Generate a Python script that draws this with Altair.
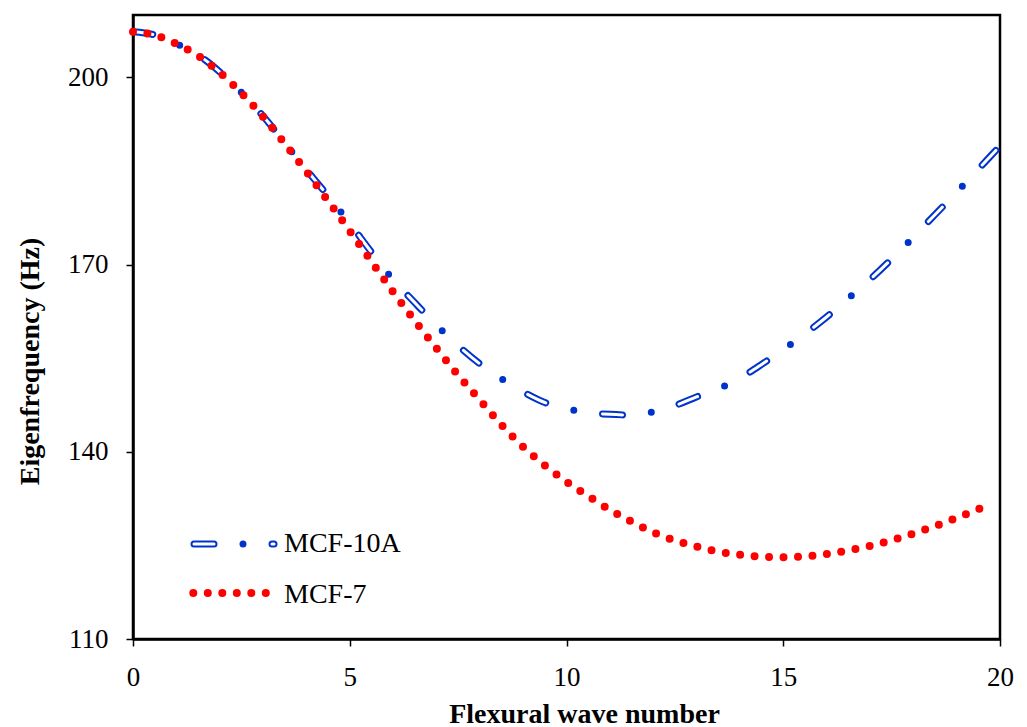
import altair as alt
import pandas as pd

# Flexural wave number (x) and eigenfrequency in Hz (y) for each cell line
wave_number_10a = [0, 0.5, 1, 1.5, 2, 2.5, 3, 3.5, 4, 4.5, 5, 5.5, 6, 6.5, 7, 7.5,
                   8, 8.5, 9, 9.5, 10, 10.5, 11, 11.5, 12, 12.5, 13, 13.5, 14,
                   14.5, 15, 15.5, 16, 16.5, 17, 17.5, 18, 18.5, 19, 19.5, 20]
freq_10a = [207.3, 206.8, 205.4, 203.6, 200.9, 197.6, 193.8, 189.5, 185.2, 181.0,
            176.6, 172.0, 167.6, 163.9, 160.3, 157.0, 154.1, 151.7, 149.6, 147.9,
            146.9, 146.3, 146.0, 145.9, 146.4, 147.4, 148.8, 150.1, 151.8, 154.0,
            156.4, 158.9, 161.6, 164.6, 167.6, 170.9, 174.4, 178.0, 181.6, 185.3,
            189.0]

wave_number_7 = [0, 0.5, 1, 1.5, 2, 2.5, 3, 3.5, 4, 4.5, 5, 5.5, 6, 6.5, 7, 7.5,
                 8, 8.5, 9, 9.5, 10, 10.5, 11, 11.5, 12, 12.5, 13, 13.5, 14,
                 14.5, 15, 15.5, 16, 16.5, 17, 17.5, 18, 18.5, 19, 19.5, 19.8]
freq_7 = [207.3, 206.8, 205.4, 203.5, 200.8, 197.5, 193.7, 189.4, 184.9, 180.2,
          175.4, 170.5, 165.6, 161.0, 156.6, 152.3, 148.3, 144.3, 140.8, 137.8,
          135.2, 132.9, 130.7, 128.8, 127.1, 125.8, 124.8, 124.0, 123.5, 123.2,
          123.1, 123.25, 123.6, 124.2, 124.9, 125.8, 126.9, 128.1, 129.4, 130.8,
          131.7]

series_names = ["MCF-10A", "MCF-7"]
x_ticks = [0, 5, 10, 15, 20]
y_ticks = [110, 140, 170, 200]

BLUE = "#0033cc"
RED = "#ff0000"
FONT = "Liberation Serif"

df_10a = pd.DataFrame({"k": wave_number_10a, "f": freq_10a})
df_7 = pd.DataFrame({"k": wave_number_7, "f": freq_7})

x_enc = alt.X(
    "k:Q",
    scale=alt.Scale(domain=[0, 20], nice=False),
    axis=alt.Axis(
        values=x_ticks, title="Flexural wave number", titleX=451, titleY=83,
        titleAlign="center", titleBaseline="alphabetic", labelFlush=False,
    ),
)
y_enc = alt.Y(
    "f:Q",
    scale=alt.Scale(domain=[110, 210], nice=False, zero=False),
    axis=alt.Axis(
        values=y_ticks, title="Eigenfrequency (Hz)", titleX=-103, titleY=346,
        titleAlign="center", titleBaseline="middle", labelFlush=False,
    ),
)

# MCF-10A: dash-dot line whose dashes are hollow (blue stroke, white core)
blue_outer = alt.Chart(df_10a).mark_line(
    color=BLUE, strokeWidth=7, strokeDash=[20, 29, 0, 29], strokeCap="round",
    interpolate="monotone", clip=True,
).encode(x=x_enc, y=y_enc)

blue_inner = alt.Chart(df_10a).mark_line(
    color="white", strokeWidth=3, strokeDash=[20, 58], strokeCap="round",
    interpolate="monotone", clip=True,
).encode(x="k:Q", y="f:Q")

# MCF-7: round dotted line
red_dots = alt.Chart(df_7).mark_line(
    color=RED, strokeWidth=8, strokeDash=[0, 14.5], strokeCap="round",
    interpolate="monotone",
).encode(x="k:Q", y="f:Q")

# Legend samples and labels
legend_10a = pd.DataFrame({"name": [series_names[0]]})
legend_7 = pd.DataFrame({"name": [series_names[1]]})

leg_blue_outer = alt.Chart(legend_10a).mark_rule(
    color=BLUE, strokeWidth=7, strokeDash=[20, 29, 0, 29], strokeCap="round",
).encode(x=alt.value(61), x2=alt.value(141), y=alt.value(529))
leg_blue_inner = alt.Chart(legend_10a).mark_rule(
    color="white", strokeWidth=3, strokeDash=[20, 58], strokeCap="round",
).encode(x=alt.value(61), x2=alt.value(141), y=alt.value(529))
leg_red = alt.Chart(legend_7).mark_rule(
    color=RED, strokeWidth=8, strokeDash=[0, 14.5], strokeCap="round",
).encode(x=alt.value(60.3), x2=alt.value(134), y=alt.value(578))

leg_text_10a = alt.Chart(legend_10a).mark_text(
    align="left", baseline="alphabetic", font=FONT, fontSize=28, color="black",
).encode(x=alt.value(151), y=alt.value(537), text="name:N")
leg_text_7 = alt.Chart(legend_7).mark_text(
    align="left", baseline="alphabetic", font=FONT, fontSize=28, color="black",
).encode(x=alt.value(151), y=alt.value(588), text="name:N")

chart = alt.layer(
    blue_outer, blue_inner, red_dots,
    leg_blue_outer, leg_blue_inner, leg_red, leg_text_10a, leg_text_7,
).properties(
    width=867,
    height=624,
    autosize=alt.AutoSizeParams(type="none"),
    padding={"left": 133, "top": 15, "right": 27, "bottom": 88},
    background="white",
).configure_view(
    stroke="black", strokeWidth=2.5,
).configure_axis(
    grid=False,
    domainColor="black", domainWidth=2.5,
    tickColor="black", tickWidth=1.5, tickSize=7,
    labelFont=FONT, labelFontSize=27, labelColor="black", labelPadding=18,
    titleFont=FONT, titleFontSize=28, titleFontWeight="bold", titleColor="black",
)

chart.save("out.html", embed_options={"renderer": "svg", "actions": False})
